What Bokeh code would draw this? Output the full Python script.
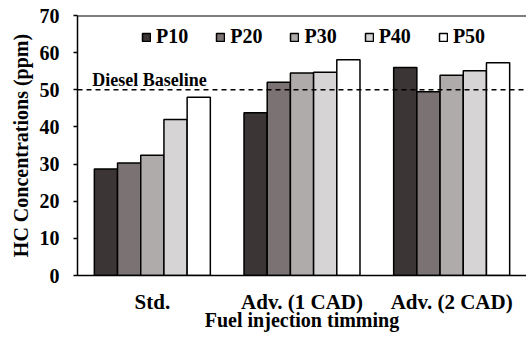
from bokeh.plotting import figure
from bokeh.models import FactorRange, Span, Label, FixedTicker, ColumnDataSource
from bokeh.transform import dodge
from bokeh.embed import file_html
from bokeh.resources import INLINE

timings = ["Std.", "Adv. (1 CAD)", "Adv. (2 CAD)"]
series = ["P10", "P20", "P30", "P40", "P50"]
p10 = [28.7, 43.8, 56.0]
p20 = [30.3, 52.0, 49.5]
p30 = [32.4, 54.5, 53.9]
p40 = [42.0, 54.7, 55.1]
p50 = [48.0, 58.1, 57.3]
baseline = 50
y_ticks = [0, 10, 20, 30, 40, 50, 60, 70]
y_max = 70

colors = ["#3b3535", "#7b7373", "#afabab", "#d6d4d4", "#ffffff"]
FONT = "Liberation Serif"

src = ColumnDataSource(dict(t=timings, P10=p10, P20=p20, P30=p30, P40=p40, P50=p50))

p = figure(width=526, height=339, x_range=FactorRange(*timings, range_padding=0),
           y_range=(0, y_max), output_backend="svg", toolbar_location=None,
           min_border_left=77, min_border_right=0, min_border_top=15, min_border_bottom=64)
p.outline_line_color = None
p.xgrid.visible = False
p.ygrid.visible = False

bw = 0.155
offsets = [-2 * bw, -bw, 0, bw, 2 * bw]
for s, c, off in zip(series, colors, offsets):
    p.vbar(x=dodge("t", off, range=p.x_range), top=s, width=bw, source=src,
           fill_color=c, line_color="black", line_width=1.5, legend_label=s)

p.add_layout(Span(location=baseline, dimension="width", line_color="black",
                  line_width=1.5, line_dash="5 4"))
# top frame line
p.add_layout(Span(location=y_max, dimension="width", line_color="black", line_width=2))
p.add_layout(Label(x=0.098, y=baseline, y_offset=10, text="Diesel Baseline",
                   text_font=FONT, text_font_style="bold", text_font_size="18px",
                   text_baseline="alphabetic", text_color="black"))

# y axis
ya = p.yaxis[0]
ya.ticker = FixedTicker(ticks=y_ticks)
ya.axis_label = "HC Concentrations (ppm)"
ya.axis_label_text_font = FONT
ya.axis_label_text_font_style = "bold"
ya.axis_label_text_font_size = "20px"
ya.axis_label_text_color = "black"
ya.axis_label_standoff = 5
ya.major_label_text_font = FONT
ya.major_label_text_font_style = "bold"
ya.major_label_text_font_size = "20px"
ya.major_label_text_color = "black"
ya.major_label_standoff = 14
ya.major_tick_out = 4
ya.major_tick_in = 0
ya.minor_tick_out = 0
ya.minor_tick_in = 0
ya.axis_line_width = 1.5
ya.axis_line_color = "black"
ya.major_tick_line_width = 1.5
ya.major_tick_line_color = "black"

# x axis
xa = p.xaxis[0]
xa.axis_label = "Fuel injection timming"
xa.axis_label_text_font = FONT
xa.axis_label_text_font_style = "bold"
xa.axis_label_text_font_size = "20px"
xa.axis_label_text_color = "black"
xa.axis_label_standoff = -8
xa.major_label_text_font = FONT
xa.major_label_text_font_style = "bold"
xa.major_label_text_font_size = "21px"
xa.major_label_text_color = "black"
xa.major_label_standoff = 14
xa.major_tick_out = 0
xa.major_tick_in = 0
xa.axis_line_width = 1.5
xa.axis_line_color = "black"

lg = p.legend[0]
lg.orientation = "horizontal"
lg.location = (64, 227)
lg.border_line_color = None
lg.background_fill_alpha = 0
lg.padding = 0
lg.margin = 0
lg.spacing = 27
lg.glyph_width = 10
lg.glyph_height = 10
lg.label_standoff = 5
lg.label_text_font = FONT
lg.label_text_font_style = "bold"
lg.label_text_font_size = "20px"
lg.label_text_color = "black"

open("out.html", "w").write(file_html(p, INLINE))
